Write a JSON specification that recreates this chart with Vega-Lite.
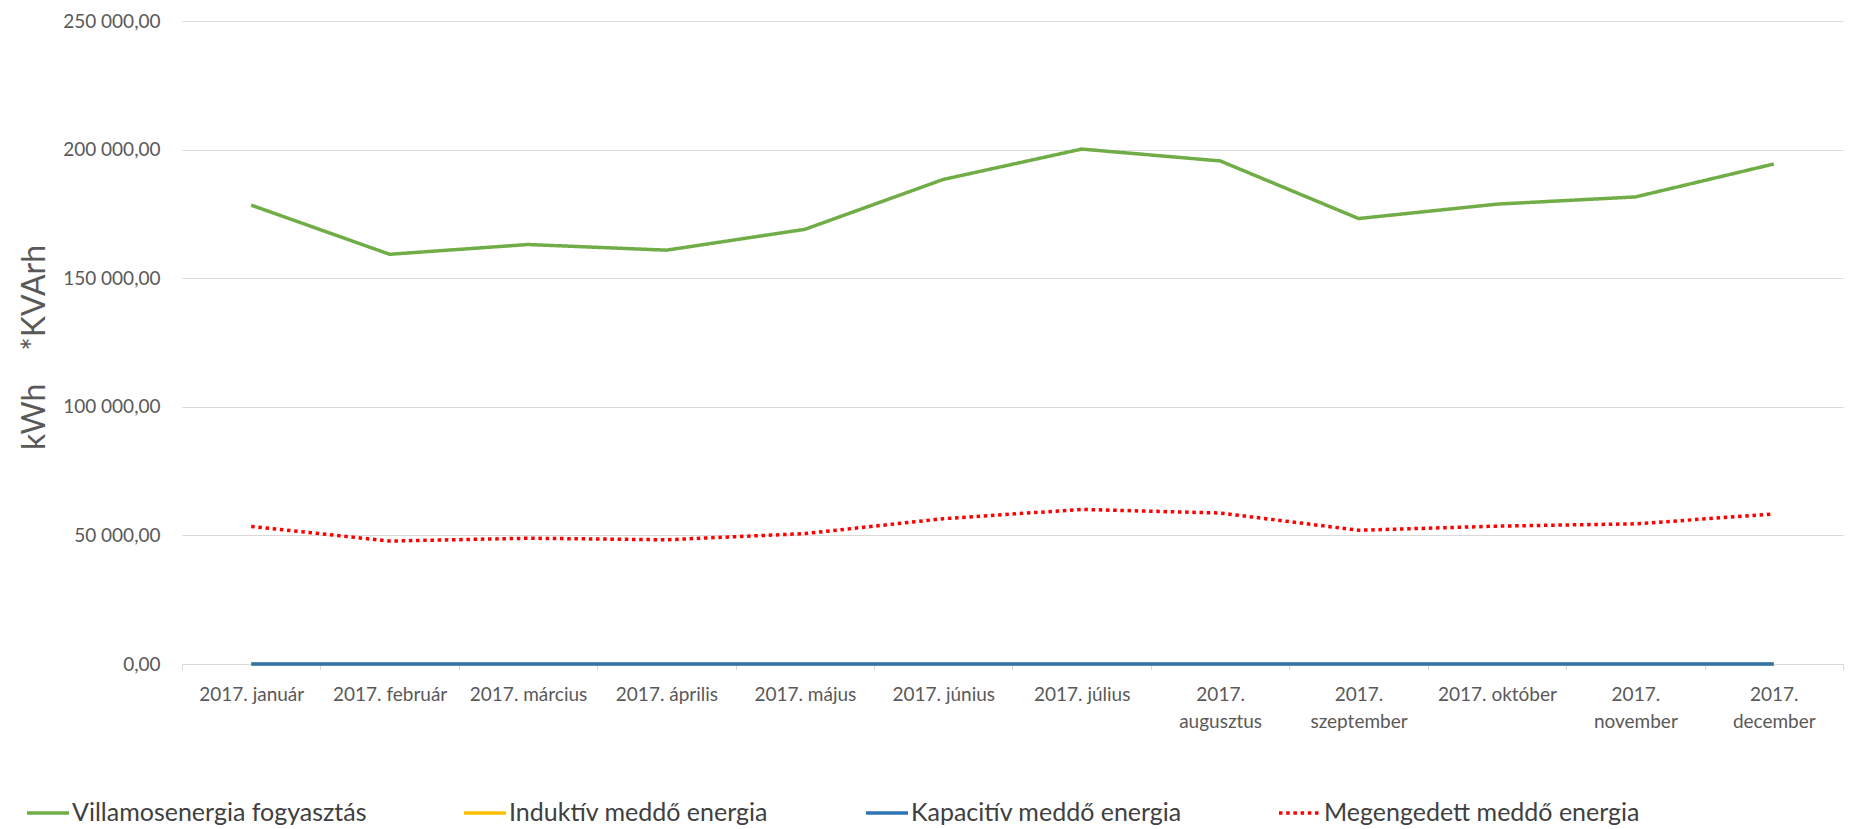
{
  "$schema": "https://vega.github.io/schema/vega-lite/v6.json",
  "width": 1661,
  "height": 643,
  "autosize": {"type": "none"},
  "padding": {"left": 182, "top": 21, "right": 11, "bottom": 165},
  "background": "white",
  "config": {
    "font": "Lato",
    "view": {"stroke": null},
    "axis": {"labelColor": "#595959", "titleColor": "#595959"}
  },
  "data": {
    "values": [
      {"month": "2017. január", "series": "Villamosenergia fogyasztás", "value": 178400},
      {"month": "2017. február", "series": "Villamosenergia fogyasztás", "value": 159300},
      {"month": "2017. március", "series": "Villamosenergia fogyasztás", "value": 163100},
      {"month": "2017. április", "series": "Villamosenergia fogyasztás", "value": 160900},
      {"month": "2017. május", "series": "Villamosenergia fogyasztás", "value": 169000},
      {"month": "2017. június", "series": "Villamosenergia fogyasztás", "value": 188400},
      {"month": "2017. július", "series": "Villamosenergia fogyasztás", "value": 200200},
      {"month": "2017. augusztus", "series": "Villamosenergia fogyasztás", "value": 195600},
      {"month": "2017. szeptember", "series": "Villamosenergia fogyasztás", "value": 173200},
      {"month": "2017. október", "series": "Villamosenergia fogyasztás", "value": 178800},
      {"month": "2017. november", "series": "Villamosenergia fogyasztás", "value": 181600},
      {"month": "2017. december", "series": "Villamosenergia fogyasztás", "value": 194400},
      {"month": "2017. január", "series": "Induktív meddő energia", "value": 0},
      {"month": "2017. február", "series": "Induktív meddő energia", "value": 0},
      {"month": "2017. március", "series": "Induktív meddő energia", "value": 0},
      {"month": "2017. április", "series": "Induktív meddő energia", "value": 0},
      {"month": "2017. május", "series": "Induktív meddő energia", "value": 0},
      {"month": "2017. június", "series": "Induktív meddő energia", "value": 0},
      {"month": "2017. július", "series": "Induktív meddő energia", "value": 0},
      {"month": "2017. augusztus", "series": "Induktív meddő energia", "value": 0},
      {"month": "2017. szeptember", "series": "Induktív meddő energia", "value": 0},
      {"month": "2017. október", "series": "Induktív meddő energia", "value": 0},
      {"month": "2017. november", "series": "Induktív meddő energia", "value": 0},
      {"month": "2017. december", "series": "Induktív meddő energia", "value": 0},
      {"month": "2017. január", "series": "Kapacitív meddő energia", "value": 0},
      {"month": "2017. február", "series": "Kapacitív meddő energia", "value": 0},
      {"month": "2017. március", "series": "Kapacitív meddő energia", "value": 0},
      {"month": "2017. április", "series": "Kapacitív meddő energia", "value": 0},
      {"month": "2017. május", "series": "Kapacitív meddő energia", "value": 0},
      {"month": "2017. június", "series": "Kapacitív meddő energia", "value": 0},
      {"month": "2017. július", "series": "Kapacitív meddő energia", "value": 0},
      {"month": "2017. augusztus", "series": "Kapacitív meddő energia", "value": 0},
      {"month": "2017. szeptember", "series": "Kapacitív meddő energia", "value": 0},
      {"month": "2017. október", "series": "Kapacitív meddő energia", "value": 0},
      {"month": "2017. november", "series": "Kapacitív meddő energia", "value": 0},
      {"month": "2017. december", "series": "Kapacitív meddő energia", "value": 0},
      {"month": "2017. január", "series": "Megengedett meddő energia", "value": 53500},
      {"month": "2017. február", "series": "Megengedett meddő energia", "value": 47800},
      {"month": "2017. március", "series": "Megengedett meddő energia", "value": 48900},
      {"month": "2017. április", "series": "Megengedett meddő energia", "value": 48300},
      {"month": "2017. május", "series": "Megengedett meddő energia", "value": 50700},
      {"month": "2017. június", "series": "Megengedett meddő energia", "value": 56500},
      {"month": "2017. július", "series": "Megengedett meddő energia", "value": 60100},
      {"month": "2017. augusztus", "series": "Megengedett meddő energia", "value": 58700},
      {"month": "2017. szeptember", "series": "Megengedett meddő energia", "value": 52000},
      {"month": "2017. október", "series": "Megengedett meddő energia", "value": 53600},
      {"month": "2017. november", "series": "Megengedett meddő energia", "value": 54500},
      {"month": "2017. december", "series": "Megengedett meddő energia", "value": 58300}
    ]
  },
  "mark": {"type": "line", "strokeWidth": 3.5},
  "encoding": {
    "x": {
      "field": "month",
      "type": "ordinal",
      "sort": null,
      "bandPosition": 0.5,
      "scale": {"type": "band", "paddingInner": 0, "paddingOuter": 0},
      "axis": {
        "title": null,
        "labelAngle": 0,
        "labelFontSize": 19,
        "labelPadding": 15,
        "labelLineHeight": 27,
        "labelExpr": "length(datum.label) > 13 ? split(datum.label, ' ') : datum.label",
        "tickBand": "extent",
        "tickSize": 6,
        "tickColor": "#d9d9d9",
        "domainColor": "#d9d9d9",
        "domainWidth": 1,
        "grid": false
      }
    },
    "y": {
      "field": "value",
      "type": "quantitative",
      "scale": {"domain": [0, 250000], "nice": false},
      "axis": {
        "values": [0, 50000, 100000, 150000, 200000, 250000],
        "labelExpr": "replace(replace(format(datum.value, ',.2f'), ',', ' '), '.', ',')",
        "labelFontSize": 19,
        "labelPadding": 22,
        "ticks": false,
        "domain": false,
        "grid": true,
        "gridColor": "#d9d9d9",
        "gridWidth": 1,
        "title": "kWh\u00a0\u00a0\u00a0\u00a0*KVArh",
        "titleFontSize": 32,
        "titleFontWeight": "normal",
        "titleAngle": -90,
        "titleX": -138,
        "titleY": 326,
        "titleAlign": "center",
        "titleBaseline": "alphabetic"
      }
    },
    "color": {
      "field": "series",
      "type": "nominal",
      "sort": null,
      "scale": {
        "domain": ["Villamosenergia fogyasztás", "Induktív meddő energia", "Kapacitív meddő energia", "Megengedett meddő energia"],
        "range": ["#70AD47", "#FFC000", "#2E75B6", "#FF0000"]
      },
      "legend": {
        "title": null,
        "orient": "none",
        "direction": "horizontal",
        "legendX": -157,
        "legendY": 769,
        "padding": 0,
        "symbolType": "stroke",
        "symbolSize": 1764,
        "symbolStrokeWidth": 3.5,
        "labelFontSize": 25,
        "labelColor": "#404040",
        "labelOffset": 1,
        "columnPadding": 90,
        "labelLimit": 0
      }
    },
    "strokeDash": {
      "field": "series",
      "type": "nominal",
      "sort": null,
      "scale": {
        "domain": ["Villamosenergia fogyasztás", "Induktív meddő energia", "Kapacitív meddő energia", "Megengedett meddő energia"],
        "range": [[1, 0], [1, 0], [1, 0], [3.5, 3.7]]
      },
      "legend": {
        "title": null,
        "orient": "none",
        "direction": "horizontal",
        "legendX": -157,
        "legendY": 769,
        "padding": 0,
        "symbolType": "stroke",
        "symbolSize": 1764,
        "symbolStrokeWidth": 3.5,
        "labelFontSize": 25,
        "labelColor": "#404040",
        "labelOffset": 1,
        "columnPadding": 90,
        "labelLimit": 0
      }
    }
  }
}
